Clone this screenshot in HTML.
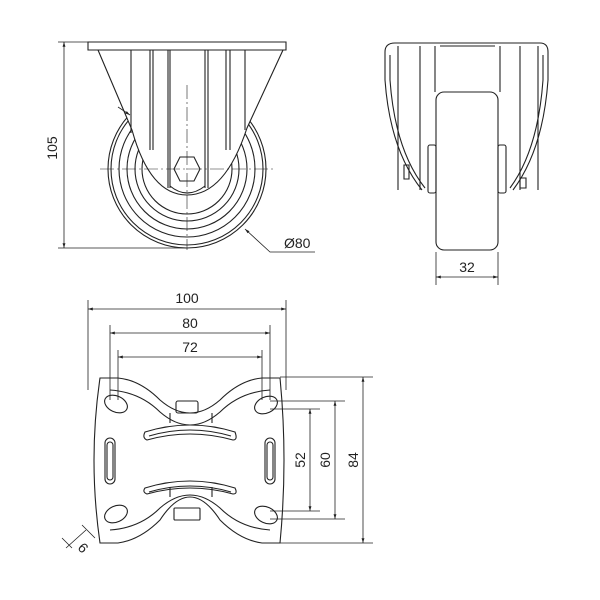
<!DOCTYPE html>
<html><head><meta charset="utf-8"><style>body{margin:0;background:#fff}svg{display:block}text{font-family:"Liberation Sans",sans-serif;font-size:14px;fill:#222}</style></head><body>
<svg width="600" height="600" viewBox="0 0 600 600" xmlns="http://www.w3.org/2000/svg">
<defs><marker id="a" viewBox="0 0 10 10" refX="10" refY="5" markerWidth="8" markerHeight="6" orient="auto-start-reverse"><path d="M0,2 L10,5 L0,8 z" fill="#222"/></marker></defs>
<g fill="none" stroke="#222" stroke-width="1.1">
<!-- top-left view -->
<circle cx="187" cy="169" r="79"/><circle cx="187" cy="169" r="76"/><circle cx="187" cy="169" r="68"/><circle cx="187" cy="169" r="60"/><circle cx="187" cy="169" r="52"/><circle cx="187" cy="169" r="45"/>
<path d="M98,50 L132,130 Q150,195 187,195 Q225,195 247,128 L283,50 Z" fill="#fff"/>
<path d="M88,42 H286 V50 H88 Z" fill="#fff"/>
<path d="M131,50 V133 M150,50 V150 M153,50 V150 M168,50 V188 M170,50 V188 M205,50 V188 M208,50 V188 M226,50 V150 M230,50 V150 M245,50 V130"/>
<path d="M170,186 Q187,200 205,186"/>
<polygon points="180,157 194,157 200,169 194,181 180,181 174,169" fill="#fff"/>
<path d="M64,42 V248" marker-start="url(#a)" marker-end="url(#a)" stroke-width="0.8"/>
<path d="M58,42 H90 M58,248 H187" stroke-width="0.8"/>
<path d="M187,85 V250 M100,169 H275" stroke-width="0.6" stroke-dasharray="14,3,2,3"/>
<path d="M315,252 H270 L245,229" marker-end="url(#a)" stroke-width="0.8"/>
<path d="M118,107 L130,115" marker-end="url(#a)" stroke-width="0.8"/>
<!-- top-right view -->
<path d="M385,52 Q385,43 395,43 H540 Q548,43 548,52" />
<path d="M385,52 V80 Q390,150 422,190 M390,55 V80 Q395,150 425,188 M548,52 V80 Q543,150 513,190 M543,55 V80 Q538,150 510,188"/>
<path d="M398,46 V190 M420,46 V190 M520,46 V190 M538,46 V190 M435,46 V92 M500,46 V92 M440,46 H495"/>
<rect x="436" y="92" width="62" height="158" rx="8" fill="#fff"/>
<rect x="428" y="145" width="8" height="48" rx="2"/><rect x="498" y="145" width="8" height="48" rx="2"/>
<path d="M404,165 h5 v14 h-5z M520,178 h6 v10 h-6z"/>
<path d="M436,252 V285 M498,252 V285" stroke-width="0.8"/>
<path d="M436,277 H498" marker-start="url(#a)" marker-end="url(#a)" stroke-width="0.8"/>
<!-- bottom view -->
<path d="M100,378 H118 Q140,380 160,400 Q175,413 190,413 Q205,413 220,400 Q240,380 262,378 H280 Q288,460 280,543 H262 Q240,540 220,520 Q205,497 190,497 Q175,497 160,520 Q140,540 118,543 H100 Q88,460 100,378 Z"/>
<path d="M110,390 Q140,392 160,412 Q175,425 190,425 Q205,425 220,412 Q240,392 270,390 M110,530 Q140,528 160,508 Q175,495 190,495 Q205,495 220,508 Q240,528 270,530"/>
<path d="M170,413 V423 M212,413 V423 M170,497 V487 M212,497 V487"/>
<rect x="176" y="401" width="22" height="12" rx="2"/><rect x="174" y="508" width="26" height="12" rx="1"/>
<ellipse cx="116" cy="404" rx="12" ry="8" transform="rotate(25 116 404)"/><ellipse cx="266" cy="405" rx="12" ry="8" transform="rotate(-25 266 405)"/>
<ellipse cx="116" cy="514" rx="12" ry="8" transform="rotate(-25 116 514)"/><ellipse cx="266" cy="515" rx="12" ry="8" transform="rotate(25 266 515)"/>
<rect x="105" y="438" width="10" height="46" rx="5"/><rect x="107" y="442" width="6" height="38" rx="3"/>
<rect x="265" y="438" width="10" height="46" rx="5"/><rect x="267" y="442" width="6" height="38" rx="3"/>
<path d="M145,432 Q190,418 235,432 Q238,440 233,440 Q190,428 147,440 Q142,438 145,432 Z M149,436 Q190,424 231,436"/>
<path d="M145,488 Q190,474 235,488 Q238,494 233,494 Q190,482 147,494 Q142,492 145,488 Z M149,492 Q190,480 231,492"/>
<path d="M88,300 V390 M286,300 V390 M110,325 V400 M270,325 V400 M118,350 V400 M262,350 V400" stroke-width="0.8"/>
<path d="M88,309 H286" marker-start="url(#a)" marker-end="url(#a)" stroke-width="0.8"/>
<path d="M110,333 H270" marker-start="url(#a)" marker-end="url(#a)" stroke-width="0.8"/>
<path d="M118,357 H262" marker-start="url(#a)" marker-end="url(#a)" stroke-width="0.8"/>
<path d="M280,377 H373 M280,543 H373 M270,401 H345 M270,519 H345 M270,409 H320 M270,511 H320" stroke-width="0.8"/>
<path d="M363,377 V543" marker-start="url(#a)" marker-end="url(#a)" stroke-width="0.8"/>
<path d="M335,401 V519" marker-start="url(#a)" marker-end="url(#a)" stroke-width="0.8"/>
<path d="M310,409 V511" marker-start="url(#a)" marker-end="url(#a)" stroke-width="0.8"/>
<path d="M62,538 L72,548 M82,525 L95,538 M66,548 L86,530" stroke-width="0.8"/>
</g>
<text x="57" y="148" text-anchor="middle" transform="rotate(-90 57 148)">105</text>
<text x="284" y="248">Ø80</text>
<text x="467" y="272" text-anchor="middle">32</text>
<text x="187" y="303" text-anchor="middle">100</text>
<text x="190" y="328" text-anchor="middle">80</text>
<text x="190" y="352" text-anchor="middle">72</text>
<text x="305" y="460" text-anchor="middle" transform="rotate(-90 305 460)">52</text>
<text x="330" y="460" text-anchor="middle" transform="rotate(-90 330 460)">60</text>
<text x="358" y="460" text-anchor="middle" transform="rotate(-90 358 460)">84</text>
<text x="83" y="548" text-anchor="middle" transform="rotate(-135 83 548) translate(0,5)">9</text>
</svg>
</body></html>
